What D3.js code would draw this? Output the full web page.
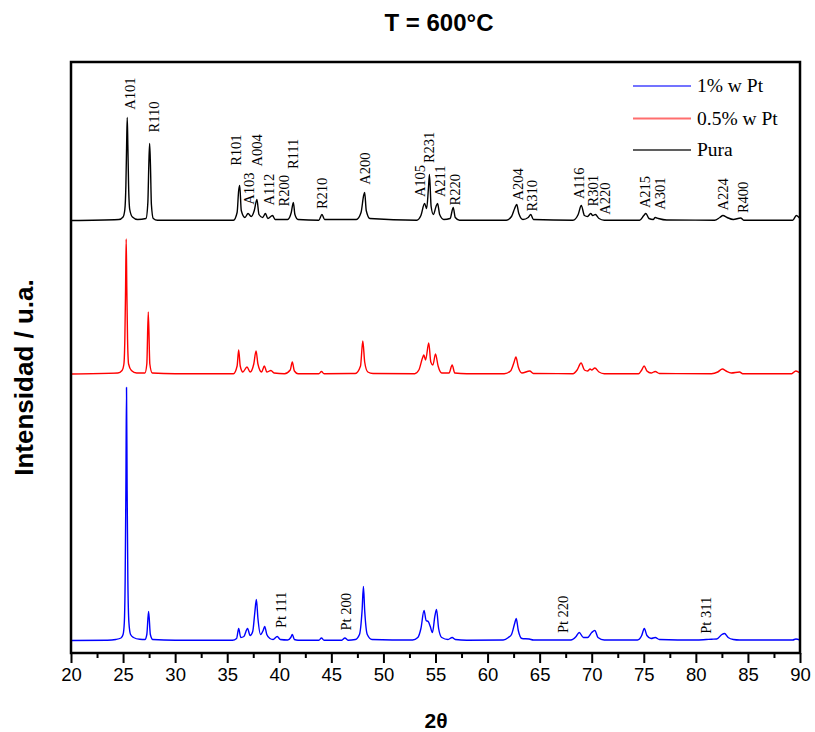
<!DOCTYPE html>
<html>
<head>
<meta charset="utf-8">
<script src="https://cdn.jsdelivr.net/npm/d3@7"></script>
<style>
  body { margin: 0; background: #fff; }
  svg { display: block; }
</style>
</head>
<body>
<svg id="chart" width="815" height="732"></svg>
<script>
// XRD patterns of TiO2 calcined at 600 °C: pure and Pt-loaded samples.
// Each pattern is a list of [2θ, intensity (a.u.)] points above its own baseline.
const seriesNames = ["1% w Pt", "0.5% w Pt", "Pura"];
const seriesColors = ["#0000ff", "#ff0000", "#000000"];
const legendColors = ["#7373ff", "#ff6e6e", "#5f5f5f"];
// vertical stacking offset of each pattern (a.u.)
const seriesOffsets = [12.5, 279, 432.5];

const pt1 = [
  [20,0],[23.5,0.3],[24.3,1],[24.8,2.5],[25.0,6],[25.12,18],[25.2,60],[25.27,150],[25.33,253],[25.39,150],[25.46,60],[25.56,18],
  [25.72,6],[26.0,3],[26.6,1.2],
  [27.1,1],[27.28,6],[27.45,29],[27.62,6],[27.85,1],[30,0.3],[35.5,0.3],[35.9,2],[36.1,12],[36.3,3],[36.6,4],[36.95,12],[37.2,5],
  [37.45,9],[37.65,28],[37.8,41],[37.95,22],[38.2,6],[38.45,10],[38.6,14],[38.8,6],[39.1,2],[39.4,1],[39.8,4],[40.1,1],[40.8,0.5],
  [41.1,3],[41.25,6],[41.45,1],[41.8,0.3],[43.8,0.3],[44.05,2.5],[44.3,0.3],[46.0,0.3],[46.3,2.5],[46.6,0.3],[47.3,1],[47.7,6],
  [47.95,30],[48.08,54],[48.2,30],[48.45,6],[48.9,1],[52.8,0.5],[53.3,3],[53.6,12],[53.9,30],[54.1,20],[54.3,19],[54.5,14],[54.7,8],
  [54.95,25],[55.1,31],[55.3,12],[55.6,3],[56.2,1],[56.6,3],[56.9,1],[58,0.3],[61.5,0.5],[62.0,3],[62.3,6],[62.6,17],[62.75,22],
  [62.95,10],[63.3,2],[64.0,1.5],[64.4,0.5],[68.0,0.5],[68.5,4],[68.8,8],[69.2,3],[69.6,3],[70.0,8],[70.3,10],[70.6,3],[71.2,0.5],
  [74.4,0.5],[74.8,5],[75.05,12],[75.3,5],[75.7,2],[76.1,3],[76.5,1],[80,0.5],[81.0,1],[81.5,1.3],[82.0,1.5],[82.5,6],[82.75,7],
  [83.1,3],[83.6,1],[84.2,0.5],[89.3,0.5],[89.6,1.5],[90,0.5]
];

const pt05 = [
  [20,0],[24.5,1],[24.9,3.5],[25.08,10],[25.17,35],[25.24,85],[25.3,135],[25.36,85],[25.43,35],[25.53,10],[25.8,3.5],[26.3,1],
  [27.1,1],[27.28,10],[27.42,62],[27.57,10],[27.8,1],[30,0.3],[35.6,0.3],[35.95,8],[36.1,24],[36.25,8],[36.5,2],[36.9,7],[37.2,2],
  [37.55,10],[37.77,23],[37.95,10],
  [38.3,2],[38.57,8],[38.8,2],[39.2,3.5],[39.5,1],[40.5,0.3],[41.05,4],[41.25,12],[41.45,3],[41.8,0.3],[43.8,0.3],[44.05,2.5],
  [44.3,0.3],[47.3,0.5],[47.8,8],[48.02,33],[48.2,12],[48.5,2],[49,0.5],[53.0,0.3],[53.4,4],[53.75,16],[53.88,19],[54.05,14],
  [54.35,31],[54.55,12],[54.75,9],[55.0,20],[55.25,8],[55.6,1],[56.3,1],[56.6,9],[56.85,1],[58,0.3],[61.6,0.3],[62.2,3],[62.55,12],
  [62.72,17],[62.95,7],[63.3,1],[64.05,3],[64.4,0.5],[68.2,0.3],[68.6,4],[68.98,11],[69.3,4],[69.6,3],[69.85,5],[70.0,4],[70.3,6],
  [70.7,2],[71.2,0.3],[74.5,0.3],[74.8,4],[75.03,8],[75.3,3],[75.7,1],[76.1,2.5],[76.5,0.5],[81.5,0.3],[82.1,2],[82.55,5],[82.9,3],
  [83.4,1],[84.2,2],[84.5,0.3],[89.2,0.3],[89.6,3],[90,1]
];

const pura = [
  [20,0],[24.6,1],[25.0,3.5],[25.17,11],[25.27,35],[25.34,75],[25.4,103],[25.46,75],[25.53,35],[25.64,11],[25.9,3.5],[26.4,1],
  [27.2,2],[27.38,18],[27.47,55],[27.55,77],[27.63,55],[27.72,16],[27.9,2],[28.3,0.3],[35.6,0.3],[35.95,8],[36.1,30],[36.2,35],
  [36.35,10],[36.7,3],[37.0,7],[37.3,4],[37.6,10],[37.85,21],
  [38.05,6],[38.4,3],[38.67,7],[38.9,2],[39.35,5],[39.6,1],[40.8,1],[41.15,8],[41.35,18],[41.5,6],[41.8,1],[43.8,0.3],[44.1,6],
  [44.35,1],[47.4,1],[47.85,8],[48.1,25],[48.2,28],[48.35,10],[48.7,2],[53.2,0.3],[53.6,5],[53.95,17],[54.15,12],[54.32,32],
  [54.42,46],[54.58,14],[54.8,6],[55.05,14],[55.2,17],[55.4,6],[55.8,1],[56.4,2],[56.7,13],[56.9,3],[57.3,0.3],[61.8,0.3],[62.3,4],
  [62.6,12],[62.8,16],[63.0,7],[63.4,1],[63.9,3],[64.15,6],[64.4,1],[68.2,0.3],[68.7,6],[69.0,15],[69.3,5],[69.6,4],[69.9,7],
  [70.1,5],[70.35,6],[70.7,2],[71.2,0.3],[74.6,0.3],[75.0,5],[75.2,7],[75.5,2],[75.9,1],[76.1,3],[76.4,2],[77.2,0.5],[81.8,0.3],
  [82.3,3],[82.6,5],[83.0,3],[83.6,1],[84.3,2.5],[84.6,0.3],[89.3,0.3],[89.65,5],[90,2]
];

const seriesData = [pt1, pt05, pura];

// Phase reflections (A = anatase, R = rutile) marked on the pure pattern:
// [label, 2θ of label, intensity where the label starts]
const puraLabels = [
  ["A101",25.66,110.7],["R110",27.99,88],["R101",35.82,54.7],["A103",37.10,15.7],["A004",37.90,54],
  ["A112",39.01,15],["R200",40.45,14],["R111",41.35,51.4],["R210",44.14,11.4],["A200",48.19,35.7],
  ["A105",53.47,23.4],["R231",54.36,57.4],["A211",55.41,23.4],["R220",56.92,15],["A204",62.89,20],
  ["R310",64.27,9],["A116",68.74,21.4],["R301",70.12,14],["A220",71.30,5.7],["A215",75.14,12.4],
  ["A301",76.51,10.7],["A224",82.64,10],["R400",84.50,7.4]
];
// Platinum reflections marked on the 1% Pt pattern
const ptLabels = [
  ["Pt 111",40.14,12.4],["Pt 200",46.37,10],["Pt 220",67.21,7.4],["Pt 311",80.99,6.7]
];

const xMajorTicks = [20,25,30,35,40,45,50,55,60,65,70,75,80,85,90];
const xMinorTicks = [22.5,27.5,32.5,37.5,42.5,47.5,52.5,57.5,62.5,67.5,72.5,77.5,82.5,87.5];

const titleText = "T = 600°C";
const xTitle = "2θ";
const yTitle = "Intensidad / u.a.";

// ---- layout ----
const plot = { left: 71, right: 800, top: 62, bottom: 653 };
const svg = d3.select("#chart");

const x = d3.scaleLinear().domain([20, 90]).range([plot.left, plot.right]);
const y = d3.scaleLinear().domain([0, 591]).range([plot.bottom, plot.top]);

svg.append("defs").append("clipPath").attr("id", "plot-clip")
  .append("rect")
  .attr("x", plot.left).attr("y", plot.top)
  .attr("width", plot.right - plot.left).attr("height", plot.bottom - plot.top);

// patterns
const traces = svg.append("g").attr("clip-path", "url(#plot-clip)");
seriesData.forEach((pts, i) => {
  const line = d3.line()
    .x(d => x(d[0]))
    .y(d => y(d[1] + seriesOffsets[i]))
    .curve(d3.curveMonotoneX);
  traces.append("path")
    .datum(pts)
    .attr("d", line)
    .attr("fill", "none")
    .attr("stroke", seriesColors[i])
    .attr("stroke-width", 1.4)
    .attr("stroke-linejoin", "round");
});

// reflection labels
function drawLabels(list, offset) {
  svg.append("g").selectAll("text").data(list).join("text")
    .attr("transform", d => `translate(${x(d[1])},${y(d[2] + offset)}) rotate(-90)`)
    .attr("text-anchor", "start")
    .attr("dominant-baseline", "central")
    .attr("font-family", "'Liberation Serif', 'Times New Roman', serif")
    .attr("font-size", 14.5)
    .attr("fill", "#000")
    .text(d => d[0]);
}
drawLabels(puraLabels, seriesOffsets[2]);
drawLabels(ptLabels, seriesOffsets[0]);

// bottom axis
const xAxis = d3.axisBottom(x)
  .tickValues(xMajorTicks)
  .tickSize(10)
  .tickPadding(5)
  .tickFormat(d3.format("d"));
const gx = svg.append("g")
  .attr("transform", `translate(0,${plot.bottom})`)
  .call(xAxis);
gx.select(".domain").remove();
gx.selectAll(".tick line").attr("stroke", "#000").attr("stroke-width", 2);
gx.selectAll(".tick text")
  .attr("font-family", "'Liberation Sans', Arial, sans-serif")
  .attr("font-size", 18.5)
  .attr("fill", "#000");

const xMinor = d3.axisBottom(x).tickValues(xMinorTicks).tickSize(5).tickFormat("");
const gxm = svg.append("g")
  .attr("transform", `translate(0,${plot.bottom})`)
  .call(xMinor);
gxm.select(".domain").remove();
gxm.selectAll(".tick line").attr("stroke", "#000").attr("stroke-width", 2);

// frame
svg.append("rect")
  .attr("x", plot.left).attr("y", plot.top)
  .attr("width", plot.right - plot.left).attr("height", plot.bottom - plot.top)
  .attr("fill", "none")
  .attr("stroke", "#000")
  .attr("stroke-width", 2.5);

// legend
const legend = svg.append("g");
const legendRows = [86, 118.5, 150];
seriesNames.forEach((name, i) => {
  legend.append("line")
    .attr("x1", 633).attr("x2", 691)
    .attr("y1", legendRows[i]).attr("y2", legendRows[i])
    .attr("stroke", legendColors[i])
    .attr("stroke-width", 2);
  legend.append("text")
    .attr("x", 697)
    .attr("y", legendRows[i])
    .attr("dy", "0.33em")
    .attr("font-family", "'Liberation Serif', 'Times New Roman', serif")
    .attr("font-size", 19.5)
    .attr("fill", "#000")
    .text(name);
});

// titles
svg.append("text")
  .attr("x", 439).attr("y", 31)
  .attr("text-anchor", "middle")
  .attr("font-family", "'Liberation Sans', Arial, sans-serif")
  .attr("font-weight", "bold")
  .attr("font-size", 24)
  .text(titleText);

svg.append("text")
  .attr("x", 436).attr("y", 728)
  .attr("text-anchor", "middle")
  .attr("font-family", "'Liberation Sans', Arial, sans-serif")
  .attr("font-weight", "bold")
  .attr("font-size", 21)
  .text(xTitle);

svg.append("text")
  .attr("transform", "translate(33,377.5) rotate(-90)")
  .attr("text-anchor", "middle")
  .attr("font-family", "'Liberation Sans', Arial, sans-serif")
  .attr("font-weight", "bold")
  .attr("font-size", 26)
  .text(yTitle);
</script>
</body>
</html>
